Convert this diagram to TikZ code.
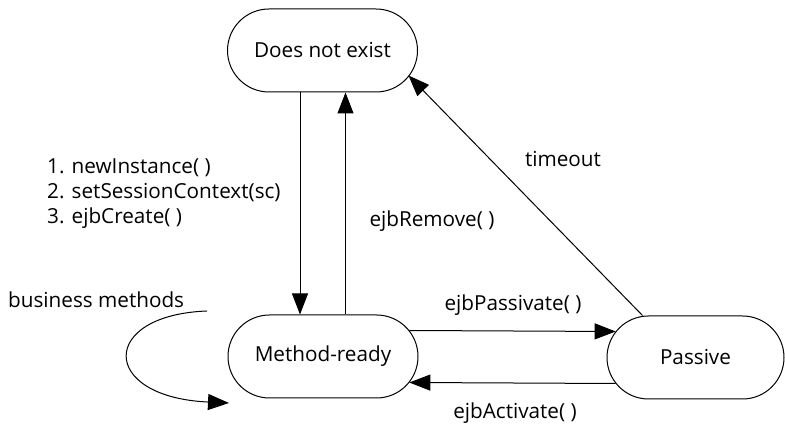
\documentclass[tikz,border=0pt]{standalone}
\usepackage{fontspec}
\setmainfont{Open Sans}
\usetikzlibrary{arrows.meta,shapes.misc,calc}
\begin{document}
\begin{tikzpicture}[x=1pt,y=1pt,
  state/.style={draw,line width=1pt,rounded rectangle,minimum height=83pt,inner sep=0pt,font=\fontsize{20.7}{24}\selectfont},
  lbl/.style={inner sep=0pt,font=\fontsize{20.7}{25}\selectfont},
  arr/.style={line width=1pt,-{Triangle[length=21pt,width=16pt]}}]
\useasboundingbox (0,0) rectangle (785,425);
\node[state,minimum width=190pt] (dne) at (322.5,374.5) {Does not exist};
\node[state,minimum width=190pt] (mr) at (323,68.5) {Method-ready};
\node[state,minimum width=177pt] (pas) at (695.5,67.5) {Passive};
% creation / removal
\draw[arr] ([xshift=-22.5pt]dne.south) -- ([xshift=-22.5pt]dne.south |- mr.north);
\draw[arr] ([xshift=22.5pt]mr.north) -- ([xshift=22.5pt]mr.north |- dne.south);
% passivate / activate
\coordinate (mrA) at ($(mr.east)+(-9.2,26)$);
\coordinate (pasA) at ($(pas.west)+(9.2,26)$);
\coordinate (mrB) at ($(mr.east)+(-9.2,-26)$);
\coordinate (pasB) at ($(pas.west)+(9.2,-26)$);
\draw[arr] (mrA) -- (pasA);
\draw[arr] (pasB) -- (mrB);
% timeout
\coordinate (pasT) at ($(pas.north)+(-53,0)$);
\coordinate (dneT) at ($(dne.center)+(86,-25)$);
\draw[arr] (pasT) -- (dneT);
% business methods loop
\coordinate (bmS) at (207,114);
\coordinate (bmE) at (229,22);
\draw[arr] (bmS) .. controls (99,110) and (99,28) .. (bmE);
% labels
\node[lbl,anchor=west,align=left] (cr) at (47,231) {1. newInstance( )\\2. setSessionContext(sc)\\3. ejbCreate( )};
\node[lbl] (rm) at (432,204) {ejbRemove( )};
\node[lbl] (to) at (563,266) {timeout};
\node[lbl,anchor=west] (bm) at (8,125) {business methods};
\node[lbl] (pv) at (513,120) {ejbPassivate( )};
\node[lbl] (ac) at (515,12) {ejbActivate( )};
\end{tikzpicture}
\end{document}
